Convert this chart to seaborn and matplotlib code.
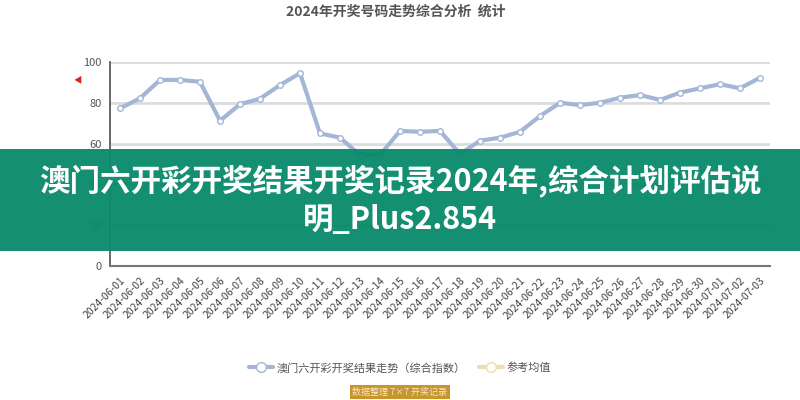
import matplotlib.pyplot as plt
import pandas as pd
import seaborn as sns
from matplotlib.lines import Line2D
from matplotlib.patches import Rectangle

draw_dates = [
	"2024-06-01", "2024-06-02", "2024-06-03", "2024-06-04", "2024-06-05", "2024-06-06",
	"2024-06-07", "2024-06-08", "2024-06-09", "2024-06-10", "2024-06-11", "2024-06-12",
	"2024-06-13", "2024-06-14", "2024-06-15", "2024-06-16", "2024-06-17", "2024-06-18",
	"2024-06-19", "2024-06-20", "2024-06-21", "2024-06-22", "2024-06-23", "2024-06-24",
	"2024-06-25", "2024-06-26", "2024-06-27", "2024-06-28", "2024-06-29", "2024-06-30",
	"2024-07-01", "2024-07-02", "2024-07-03",
]
index_values = [
	77.3, 82.2, 91.2, 91.2, 90.3, 71.2, 79.3, 82.0, 88.7, 94.5, 65.0,
	62.9, 54.4, 54.4, 66.2, 65.8, 66.2, 54.9, 61.4, 62.9, 65.8, 73.5,
	80.0, 78.9, 80.0, 82.5, 83.8, 81.4, 85.0, 87.1, 89.1, 87.1, 92.3,
]
y_ticks = [0, 20, 40, 60, 80, 100]
series_names = ["澳门六开彩开奖结果走势（综合指数）", "参考均值"]
series_colors = ["#a4b6d6", "#efdcb0"]

sns.set_theme(style="white")
plt.rcParams["font.family"] = ["Noto Sans CJK SC", "DejaVu Sans"]

df = pd.DataFrame({"date": draw_dates, "value": index_values})

fig = plt.figure(figsize=(8, 4), dpi=100)
ax = fig.add_axes([0.1375, 0.335, 0.825, 0.51])
sns.lineplot(
	data=df, x="date", y="value", ax=ax, sort=False,
	color=series_colors[0], linewidth=3, marker="o", markersize=4,
	markerfacecolor="white", markeredgecolor=series_colors[0], markeredgewidth=1,
)
ax.set_xlim(-0.5, len(draw_dates) - 0.5)
ax.set_ylim(y_ticks[0], y_ticks[-1])
ax.set_yticks(y_ticks)
ax.set_yticklabels([str(t) for t in y_ticks], fontsize=8, color="#555555")
ax.set_xticks(range(len(draw_dates)))
ax.set_xticklabels(draw_dates, rotation=45, ha="right", rotation_mode="anchor", fontsize=7.5, color="#444444")
ax.tick_params(axis="x", length=4, width=1, color="#666666", pad=3)
ax.tick_params(axis="y", length=0, pad=6)
ax.set_xlabel("")
ax.set_ylabel("")
ax.grid(True, axis="y", color="#dcdcdc", linewidth=2)
ax.set_axisbelow(True)
for side in ["top", "right"]:
	ax.spines[side].set_visible(False)
ax.spines["left"].set_color("#555555")
ax.spines["bottom"].set_color("#777777")
ax.spines["bottom"].set_linewidth(1.5)

fig.text(0.495, 0.97, "2024年开奖号码走势综合分析  统计", ha="center", va="center", fontsize=10, fontweight="bold", color="#555555")
fig.text(0.097, 0.80, "◀", ha="center", va="center", fontsize=6, color="#e02020")

handles = [
	Line2D([], [], color=c, linewidth=3, marker="o", markersize=7, markerfacecolor="white", markeredgecolor=c)
	for c in series_colors
]
fig.legend(handles, series_names, loc="center", bbox_to_anchor=(0.5, 0.08), ncol=2, frameon=False,
	fontsize=8, handlelength=2.2, columnspacing=1.2, handletextpad=0.3, labelcolor="#555555")
fig.text(0.5, 0.02, "数据整理 7×7 开奖记录", ha="center", va="center", fontsize=6.5, color="#f6e7c4",
	bbox=dict(boxstyle="square,pad=0.25", facecolor="#c8952e", edgecolor="none"))

# green title banner laid over the chart
fig.add_artist(Rectangle((0, 0.3725), 1, 0.255, transform=fig.transFigure, facecolor="#0b8a6b", alpha=0.96, edgecolor="none", zorder=10))
fig.text(0.5, 0.4985, "澳门六开彩开奖结果开奖记录2024年,综合计划评估说\n明_Plus2.854", ha="center", va="center",
	fontsize=22, fontweight="bold", color="white", linespacing=1.2, zorder=11)

fig.savefig("out.png", dpi=100)
plt.close(fig)
